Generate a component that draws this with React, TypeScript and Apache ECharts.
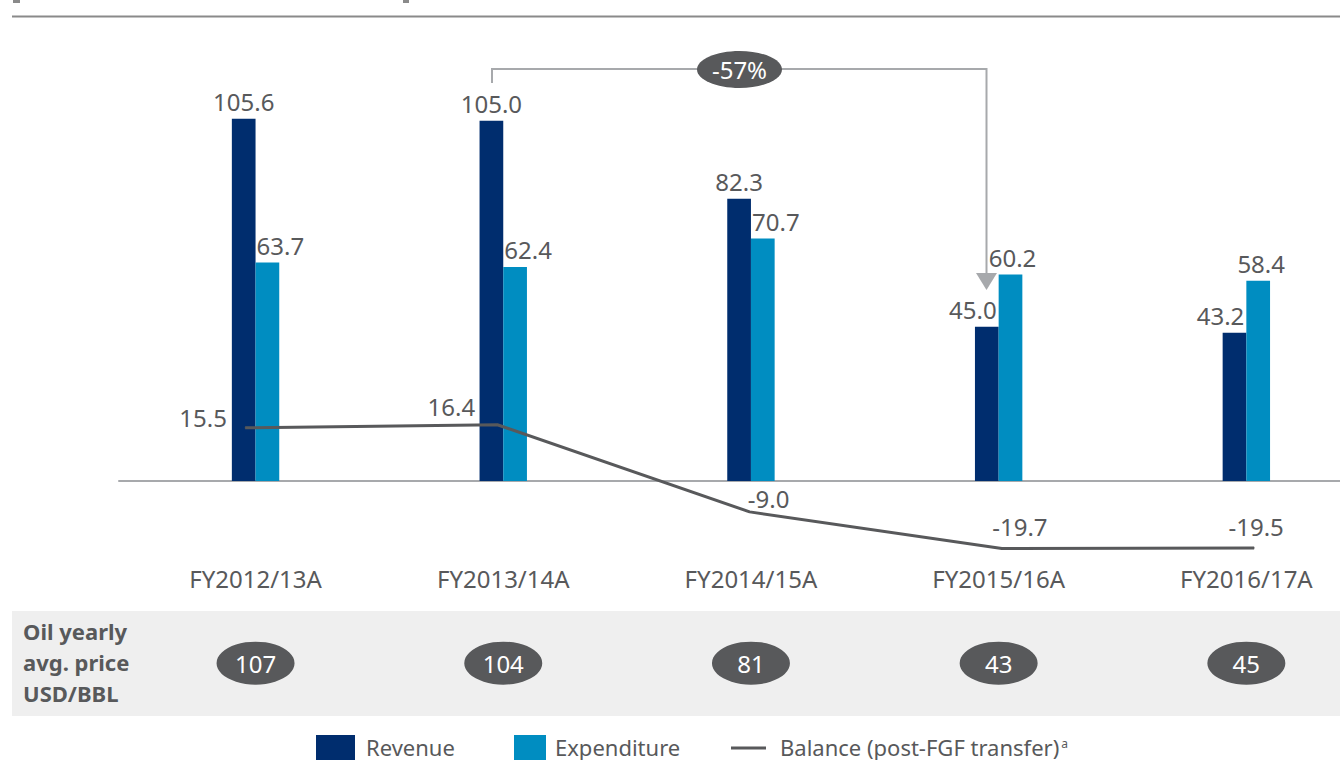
import React, { useEffect, useRef } from "react";
import * as echarts from "echarts";

// ---- data ----
const categories = ["FY2012/13A", "FY2013/14A", "FY2014/15A", "FY2015/16A", "FY2016/17A"];
const revenue = [105.6, 105.0, 82.3, 45.0, 43.2];
const expenditure = [63.7, 62.4, 70.7, 60.2, 58.4];
const balance = [15.5, 16.4, -9.0, -19.7, -19.5];
const oilPrice = [107, 104, 81, 43, 45];
const changeLabel = "-57%";
const oilRowTitle = "Oil yearly\navg. price\nUSD/BBL";
const seriesNames = ["Revenue", "Expenditure", "Balance (post-FGF transfer)"];

// ---- styling / label placement ----
const NAVY = "#002d6e";
const BLUE = "#008dc1";
const DARK = "#58595b";
const LIGHTGRAY = "#a7a9ac";
const FONT = "'Noto Sans', sans-serif";

const revLabelShift = [0, 0, 0, -14, -14];
const expLabelShift = [13, 13, 13, 2, 3];
const balLabelShift: [number, number][] = [
  [-42, -10],
  [-46, -18],
  [19, -13],
  [18, -22],
  [2, -21],
];
const OIL_ROW_VALUE = -53.1; // vertical row of the oil price badges on the value scale

const Y_MIN = -80;
const Y_MAX = 120;
const PX_PER_UNIT = 3.43;
const ZERO_Y = 481;
const GRID_TOP = ZERO_Y - Y_MAX * PX_PER_UNIT;
const GRID_H = (Y_MAX - Y_MIN) * PX_PER_UNIT;

const legendText = (x: number, text: string, rich?: any) => ({
  type: "text",
  x,
  y: 747,
  style: {
    text,
    fill: DARK,
    fontSize: 22,
    lineHeight: 22,
    fontFamily: FONT,
    verticalAlign: "middle",
    ...(rich ? { rich } : {}),
  },
  z: 3,
});

export default function App() {
  const ref = useRef<HTMLDivElement>(null);

  useEffect(() => {
    if (!ref.current) return;
    const chart = echarts.init(ref.current, undefined, { renderer: "svg" });

    const option: any = {
      animation: false,
      backgroundColor: "#ffffff",
      textStyle: { fontFamily: FONT },
      grid: [
        { left: 131.7, top: GRID_TOP, width: 1238.5, height: GRID_H, containLabel: false, outerBoundsMode: "none" },
        { left: 119, top: GRID_TOP, width: 1261.25, height: GRID_H, containLabel: false, outerBoundsMode: "none" },
        { left: 131.7, top: ZERO_Y, width: 1238.5, height: 80, containLabel: false, outerBoundsMode: "none" },
      ],
      xAxis: [
        {
          type: "category",
          gridIndex: 0,
          data: categories,
          axisLine: { show: false },
          axisTick: { show: false },
          axisLabel: { show: false },
        },
        {
          type: "category",
          gridIndex: 1,
          data: categories,
          axisLine: { show: true, onZero: true, lineStyle: { color: LIGHTGRAY, width: 2 } },
          axisTick: { show: false },
          axisLabel: { show: false },
        },
        {
          type: "category",
          gridIndex: 2,
          data: categories,
          axisLine: { show: false, onZero: false },
          axisTick: { show: false },
          axisLabel: {
            interval: 0,
            margin: 5,
            color: DARK,
            fontSize: 24,
            fontFamily: FONT,
          },
        },
      ],
      yAxis: [
        { type: "value", gridIndex: 0, min: Y_MIN, max: Y_MAX, show: false, splitLine: { show: false } },
        { type: "value", gridIndex: 1, min: Y_MIN, max: Y_MAX, show: false, splitLine: { show: false } },
        { type: "value", gridIndex: 2, min: 0, max: 1, show: false, splitLine: { show: false } },
      ],
      series: [
        {
          name: seriesNames[0],
          type: "bar",
          xAxisIndex: 0,
          yAxisIndex: 0,
          barWidth: 23.7,
          barGap: "0%",
          itemStyle: { color: NAVY },
          label: {
            show: true,
            position: "top",
            distance: 5,
            color: DARK,
            fontSize: 24,
            fontFamily: FONT,
            formatter: (p: any) => p.value.toFixed(1),
          },
          data: revenue.map((v, i) => ({ value: v, label: { offset: [revLabelShift[i], 0] } })),
          z: 3,
        },
        {
          name: seriesNames[1],
          type: "bar",
          xAxisIndex: 0,
          yAxisIndex: 0,
          barWidth: 23.7,
          barGap: "0%",
          itemStyle: { color: BLUE },
          label: {
            show: true,
            position: "top",
            distance: 5,
            color: DARK,
            fontSize: 24,
            fontFamily: FONT,
            formatter: (p: any) => p.value.toFixed(1),
          },
          data: expenditure.map((v, i) => ({ value: v, label: { offset: [expLabelShift[i], 0] } })),
          z: 3,
        },
        {
          name: seriesNames[2],
          type: "line",
          xAxisIndex: 1,
          yAxisIndex: 1,
          symbol: "circle",
          symbolSize: 1,
          itemStyle: { color: DARK },
          lineStyle: { color: DARK, width: 3 },
          label: {
            show: true,
            position: "inside",
            align: "center",
            verticalAlign: "middle",
            color: DARK,
            fontSize: 24,
            fontFamily: FONT,
            formatter: (p: any) => p.value.toFixed(1),
          },
          data: balance.map((v, i) => ({ value: v, label: { offset: balLabelShift[i] } })),
          z: 5,
        },
        {
          name: "Oil price",
          type: "scatter",
          xAxisIndex: 0,
          yAxisIndex: 0,
          symbol: "circle",
          symbolSize: [78, 43],
          itemStyle: { color: DARK, opacity: 1 },
          label: {
            show: true,
            position: "inside",
            color: "#ffffff",
            fontSize: 24,
            fontFamily: FONT,
            formatter: (p: any) => String(oilPrice[p.dataIndex]),
          },
          data: oilPrice.map(() => OIL_ROW_VALUE),
          z: 6,
        },
      ],
      graphic: [
        // top rule and clipped bracket marks
        { type: "rect", shape: { x: 12, y: 15.5, width: 1328, height: 2 }, style: { fill: "#8a8a8a" }, z: 1 },
        { type: "rect", shape: { x: 13, y: 0, width: 7, height: 3 }, style: { fill: "#8a8a8a" }, z: 1 },
        { type: "rect", shape: { x: 403, y: 0, width: 6, height: 3 }, style: { fill: "#8a8a8a" }, z: 1 },
        // oil price band
        { type: "rect", shape: { x: 12, y: 611, width: 1328, height: 105 }, style: { fill: "#efefef" }, z: 0 },
        {
          type: "text",
          x: 23,
          y: 662,
          style: {
            text: oilRowTitle,
            fill: DARK,
            fontSize: 22,
            fontWeight: "bold",
            fontFamily: FONT,
            lineHeight: 31,
            verticalAlign: "middle",
            align: "left",
          },
          z: 2,
        },
        // -57% bracket
        {
          type: "polyline",
          shape: { points: [[492, 83], [492, 69], [986.5, 69], [986.5, 275]] },
          style: { stroke: LIGHTGRAY, lineWidth: 2, fill: null },
          z: 4,
        },
        {
          type: "polygon",
          shape: { points: [[976, 273], [997, 273], [986.5, 290]] },
          style: { fill: LIGHTGRAY },
          z: 4,
        },
        {
          type: "ellipse",
          shape: { cx: 739.5, cy: 69.5, rx: 42.5, ry: 18.5 },
          style: { fill: DARK },
          z: 5,
        },
        {
          type: "text",
          x: 739.5,
          y: 69.5,
          style: {
            text: changeLabel,
            fill: "#ffffff",
            fontSize: 24,
            fontFamily: FONT,
            align: "center",
            verticalAlign: "middle",
          },
          z: 6,
        },
        // legend
        { type: "rect", shape: { x: 316, y: 735, width: 39, height: 25 }, style: { fill: NAVY }, z: 3 },
        legendText(366, seriesNames[0]),
        { type: "rect", shape: { x: 514, y: 735, width: 32, height: 25 }, style: { fill: BLUE }, z: 3 },
        legendText(555, seriesNames[1]),
        {
          type: "line",
          shape: { x1: 731, y1: 748, x2: 766, y2: 748 },
          style: { stroke: DARK, lineWidth: 3 },
          z: 3,
        },
        legendText(780, seriesNames[2] + "{sup|a}", {
          sup: { fontSize: 12, lineHeight: 12, fill: DARK, fontFamily: FONT, padding: [0, 0, 8, 2] },
        }),
      ],
    };

    chart.setOption(option);
    return () => chart.dispose();
  }, []);

  return (
    <div
      ref={ref}
      style={{ position: "fixed", left: 0, top: 0, width: 1340, height: 760, background: "#fff" }}
    />
  );
}
